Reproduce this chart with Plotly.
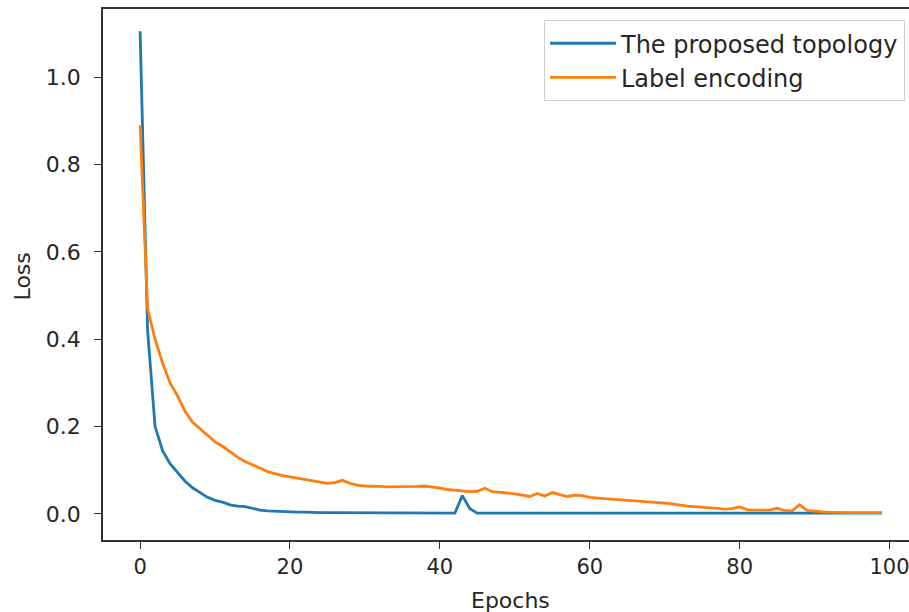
import plotly.graph_objects as go

epochs = list(range(100))

proposed_topology = [
    1.105, 0.42, 0.20, 0.145, 0.115, 0.095, 0.075, 0.060, 0.048, 0.038,
    0.031, 0.027, 0.021, 0.018, 0.017, 0.013, 0.009, 0.007, 0.006, 0.005,
    0.005, 0.004, 0.004, 0.003, 0.003, 0.003, 0.003, 0.002, 0.002, 0.002,
    0.002, 0.002, 0.002, 0.002, 0.002, 0.002, 0.002, 0.002, 0.002, 0.002,
    0.002, 0.002, 0.002, 0.042, 0.012, 0.002, 0.002, 0.002, 0.002, 0.002,
    0.002, 0.002, 0.002, 0.002, 0.002, 0.002, 0.002, 0.002, 0.002, 0.002,
    0.002, 0.002, 0.002, 0.002, 0.002, 0.002, 0.002, 0.002, 0.002, 0.002,
    0.002, 0.002, 0.002, 0.002, 0.002, 0.002, 0.002, 0.002, 0.002, 0.002,
    0.002, 0.002, 0.002, 0.002, 0.002, 0.002, 0.002, 0.002, 0.002, 0.002,
    0.002, 0.002, 0.002, 0.002, 0.002, 0.002, 0.002, 0.002, 0.002, 0.002,
]

label_encoding = [
    0.89, 0.47, 0.40, 0.345, 0.30, 0.27, 0.235, 0.21, 0.195, 0.18,
    0.165, 0.155, 0.142, 0.13, 0.12, 0.113, 0.105, 0.097, 0.092, 0.088,
    0.085, 0.082, 0.079, 0.077, 0.073, 0.070, 0.072, 0.077, 0.070, 0.066,
    0.064, 0.064, 0.063, 0.062, 0.062, 0.062, 0.062, 0.063, 0.064, 0.062,
    0.059, 0.056, 0.054, 0.052, 0.051, 0.052, 0.059, 0.051, 0.050, 0.048,
    0.046, 0.043, 0.040, 0.047, 0.041, 0.049, 0.045, 0.040, 0.043, 0.042,
    0.038, 0.036, 0.035, 0.034, 0.032, 0.031, 0.030, 0.029, 0.027, 0.026,
    0.025, 0.023, 0.020, 0.018, 0.017, 0.016, 0.015, 0.013, 0.011, 0.012,
    0.016, 0.010, 0.009, 0.009, 0.009, 0.013, 0.008, 0.007, 0.021, 0.008,
    0.006, 0.005, 0.004, 0.003, 0.003, 0.003, 0.003, 0.003, 0.003, 0.003,
]

x_ticks = [0, 20, 40, 60, 80, 100]
y_ticks = [0.0, 0.2, 0.4, 0.6, 0.8, 1.0]
y_tick_labels = ["0.0", "0.2", "0.4", "0.6", "0.8", "1.0"]

FONT = "DejaVu Sans"
TEXT = "#262626"

fig = go.Figure()
fig.add_trace(go.Scatter(x=epochs, y=proposed_topology, mode="lines",
                         name="The proposed topology",
                         line=dict(color="#1f77b4", width=2.8)))
fig.add_trace(go.Scatter(x=epochs, y=label_encoding, mode="lines",
                         name="Label encoding",
                         line=dict(color="#ff7f0e", width=2.8)))

fig.update_layout(
    width=909, height=612,
    margin=dict(l=103, r=0, t=9, b=72, autoexpand=False),
    paper_bgcolor="white", plot_bgcolor="white",
    font=dict(family=FONT, size=22, color=TEXT),
    showlegend=True,
    legend=dict(
        x=0.995, y=0.979, xanchor="right", yanchor="top",
        bgcolor="rgba(255,255,255,0.8)", bordercolor="#d0d0d0", borderwidth=1,
        font=dict(family=FONT, size=24, color=TEXT),
        itemwidth=66, tracegroupgap=0,
    ),
    xaxis=dict(
        range=[-4.95, 102.6],
        tickvals=x_ticks,
        ticks="outside", ticklen=7, tickwidth=1.3, tickcolor="#333333",
        showgrid=False, zeroline=False, automargin=False,
        showline=True, linecolor="#333333", linewidth=1.5, mirror=True,
        tickfont=dict(size=21, color=TEXT),
        ticklabeloverflow="allow",
    ),
    yaxis=dict(
        range=[-0.0596, 1.156],
        tickvals=y_ticks, ticktext=y_tick_labels,
        ticks="outside", ticklen=7, tickwidth=1.3, tickcolor="#333333",
        showgrid=False, zeroline=False, automargin=False,
        showline=True, linecolor="#333333", linewidth=1.5,
        tickfont=dict(size=22, color=TEXT),
        ticklabelstandoff=9,
    ),
    annotations=[
        dict(text="Epochs", xref="paper", yref="paper", x=0.506, y=-0.113,
             xanchor="center", yanchor="middle", showarrow=False,
             font=dict(family=FONT, size=22, color=TEXT)),
        dict(text="Loss", xref="paper", yref="paper", x=-0.100, y=0.497,
             xanchor="center", yanchor="middle", showarrow=False, textangle=-90,
             font=dict(family=FONT, size=22, color=TEXT)),
    ],
)

fig.write_html("out.html", config={"displayModeBar": False},
               post_script="document.body.style.margin='0';document.body.style.overflow='hidden';")
